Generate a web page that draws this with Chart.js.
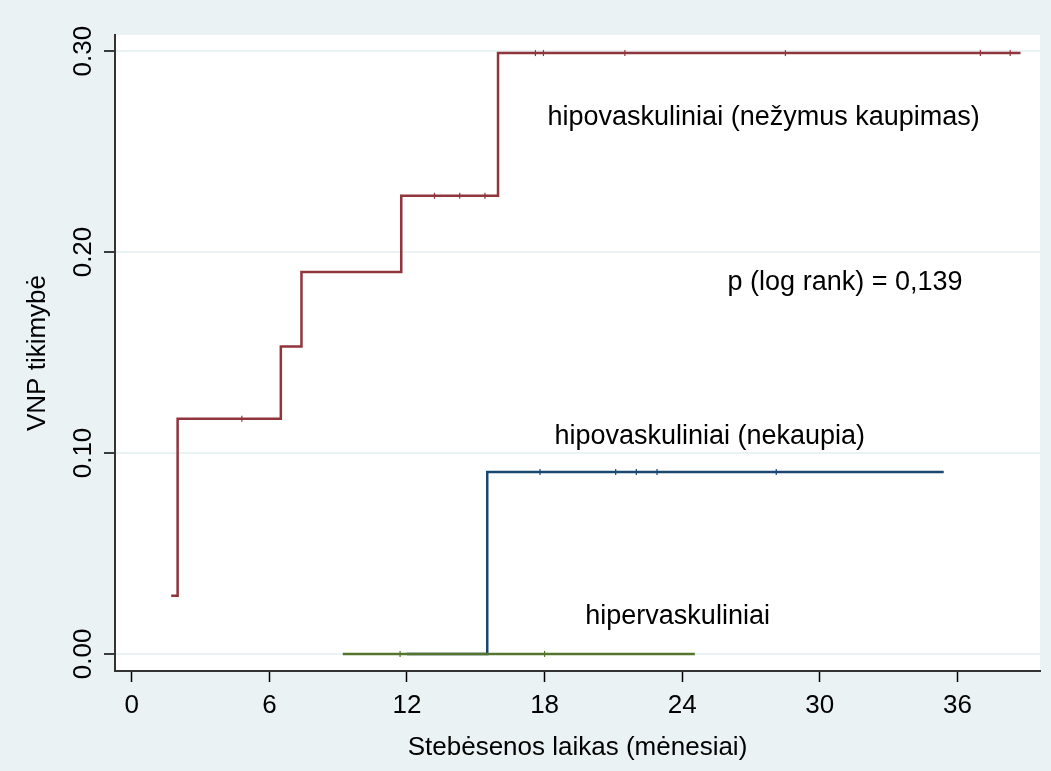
<!DOCTYPE html>
<html>
<head>
<meta charset="utf-8">
<script src="https://cdn.jsdelivr.net/npm/chart.js@4.4.1/dist/chart.umd.min.js"></script>
<style>
  html, body { margin: 0; padding: 0; background: #EAF2F3; }
  #wrap { width: 1051px; height: 771px; }
</style>
</head>
<body>
<div id="wrap"><canvas id="kmChart" width="1051" height="771"></canvas></div>
<script>
// step curves (time in months, failure probability)
const redSteps = [[1.72, 0.029], [2.0, 0.117], [6.5, 0.153], [7.4, 0.19], [11.75, 0.228], [15.97, 0.299], [38.75, 0.299]];
const blueSteps = [[12.0, 0], [15.5, 0.0905], [35.4, 0.0905]];
const greenSteps = [[9.2, 0], [24.55, 0]];

// censoring marks
const redCensor = [[4.8, 0.117], [13.2, 0.228], [14.3, 0.228], [15.4, 0.228], [17.6, 0.299], [17.95, 0.299], [21.5, 0.299], [28.5, 0.299], [37.0, 0.299], [38.3, 0.299]];
const blueCensor = [[17.8, 0.0905], [21.1, 0.0905], [22.0, 0.0905], [22.9, 0.0905], [28.1, 0.0905]];
const greenCensor = [[11.7, 0], [18.0, 0]];

const xTicks = [0, 6, 12, 18, 24, 30, 36];
const yTicks = [0, 0.1, 0.2, 0.3];

const notes = [
  { text: 'hipovaskuliniai (nežymus kaupimas)', x: 27.55, y: 0.267 },
  { text: 'p (log rank) = 0,139', x: 31.1, y: 0.185 },
  { text: 'hipovaskuliniai (nekaupia)', x: 25.2, y: 0.108 },
  { text: 'hipervaskuliniai', x: 23.8, y: 0.0185 }
];

const FONT = '"Liberation Sans", Arial, sans-serif';
const toPts = arr => arr.map(p => ({ x: p[0], y: p[1] }));

const bgPlugin = {
  id: 'bg',
  beforeDraw(chart) {
    const { ctx, chartArea: a } = chart;
    ctx.save();
    ctx.fillStyle = '#EAF2F3';
    ctx.fillRect(0, 0, chart.width, chart.height);
    ctx.fillStyle = '#FFFFFF';
    ctx.fillRect(a.left, a.top, a.right - a.left, a.bottom - a.top);
    ctx.restore();
  }
};

const notePlugin = {
  id: 'notes',
  afterDatasetsDraw(chart) {
    const { ctx, scales } = chart;
    ctx.save();
    ctx.font = '27px ' + FONT;
    ctx.fillStyle = '#000';
    ctx.textAlign = 'center';
    ctx.textBaseline = 'middle';
    notes.forEach(n => {
      ctx.fillText(n.text, scales.x.getPixelForValue(n.x), scales.y.getPixelForValue(n.y));
    });
    ctx.restore();
  }
};

function curve(data, color, order) {
  return {
    type: 'line', data: toPts(data), borderColor: color, borderWidth: 2.5,
    stepped: 'before', pointRadius: 0, fill: false, order: order
  };
}
function marks(data, color) {
  return {
    type: 'scatter', data: toPts(data), borderColor: color, backgroundColor: color,
    pointStyle: 'line', rotation: 90, radius: 3, borderWidth: 1.2, order: 1
  };
}

new Chart(document.getElementById('kmChart').getContext('2d'), {
  type: 'line',
  data: {
    datasets: [
      curve(redSteps, '#90353B', 4),
      curve(blueSteps, '#1A476F', 3),
      curve(greenSteps, '#55752F', 2),
      marks(redCensor, '#90353B'),
      marks(blueCensor, '#1A476F'),
      marks(greenCensor, '#55752F')
    ]
  },
  options: {
    responsive: false,
    animation: false,
    layout: { padding: { top: 35, right: 11, left: 0, bottom: 0 } },
    plugins: { legend: { display: false }, tooltip: { enabled: false } },
    scales: {
      x: {
        type: 'linear', min: -0.73, max: 39.6,
        afterBuildTicks: s => { s.ticks = xTicks.map(v => ({ value: v })); },
        afterFit: s => { s.height = 100; },
        grid: { drawOnChartArea: false, tickLength: 11, tickColor: '#000', tickWidth: 1.5 },
        border: { display: true, color: '#333', width: 2 },
        ticks: { color: '#000', font: { family: FONT, size: 26 }, padding: 8, maxRotation: 0 },
        title: { display: true, text: 'Stebėsenos laikas (mėnesiai)', color: '#000', font: { family: FONT, size: 26 }, padding: { top: 0, bottom: 8 } }
      },
      y: {
        type: 'linear', min: -0.0085, max: 0.308,
        afterBuildTicks: s => { s.ticks = yTicks.map(v => ({ value: v })); },
        afterFit: s => { s.width = 115; },
        grid: { color: '#EAF2F3', lineWidth: 2, tickLength: 11, tickColor: '#000', tickWidth: 1.5 },
        border: { display: true, color: '#333', width: 2 },
        ticks: { color: '#000', font: { family: FONT, size: 26 }, padding: -5, minRotation: 90, maxRotation: 90,
          crossAlign: 'center', callback: v => v.toFixed(2) },
        title: { display: true, text: 'VNP tikimybė', color: '#000', font: { family: FONT, size: 26 }, padding: { top: 22, bottom: 0 } }
      }
    }
  },
  plugins: [bgPlugin, notePlugin]
});
</script>
</body>
</html>
